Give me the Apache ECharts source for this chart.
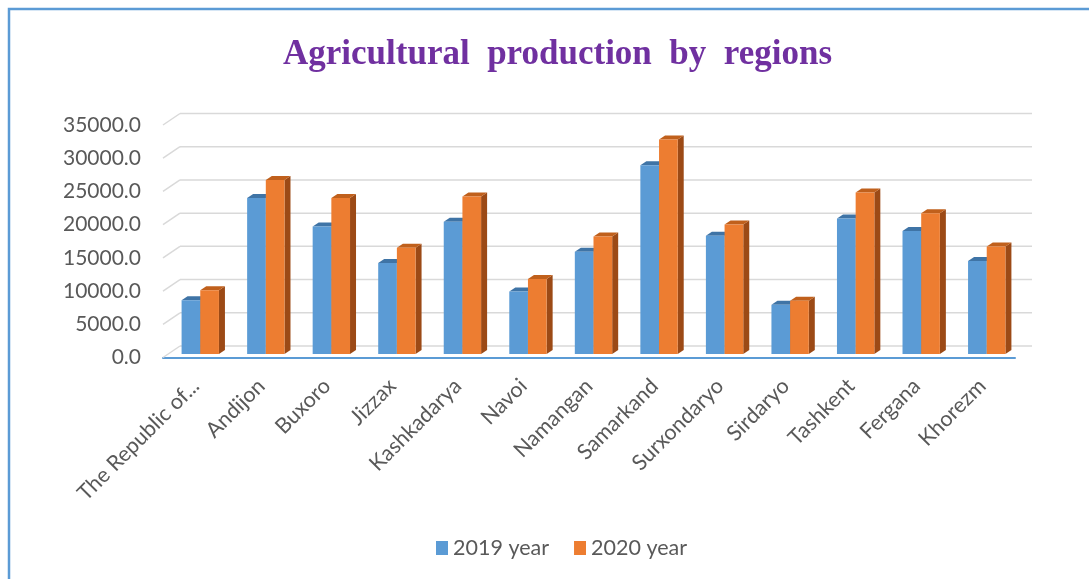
<!DOCTYPE html>
<html>
<head>
<meta charset="utf-8">
<script src="https://cdn.jsdelivr.net/npm/echarts@6/dist/echarts.min.js"></script>
<style>html,body{margin:0;padding:0;background:#fff}#c{width:1089px;height:579px}</style>
</head>
<body>
<div id="c"></div>
<script>
var categories = ["The Republic of Karakalpakstan","Andijon","Buxoro","Jizzax","Kashkadarya","Navoi","Namangan","Samarkand","Surxondaryo","Sirdaryo","Tashkent","Fergana","Khorezm"];
var values2019 = [8100, 23500, 19200, 13700, 19900, 9400, 15400, 28400, 17800, 7400, 20400, 18500, 14000];
var values2020 = [9600, 26200, 23500, 16000, 23700, 11300, 17700, 32300, 19500, 8000, 24300, 21200, 16200];
var yTicks = [0, 5000, 10000, 15000, 20000, 25000, 30000, 35000];
var seriesNames = ["2019 year", "2020 year"];

var FONT = 'Lato';
var WALL_DX = 17, WALL_DY = -11.5;   // back wall offset from front plane
var BAR_DX = 4.5, BAR_DY = -3.5;     // bar front face offset from front plane
var DEP_DX = 6, DEP_DY = -4;         // bar depth
var BAR_FRAC = 0.285;

function wallRender(params, api) {
  var cs = params.coordSys;
  var y = api.coord([0, api.value(1)])[1];
  var x0 = cs.x, x1 = cs.x + cs.width;
  var st = {stroke: '#d9d9d9', lineWidth: 1.5};
  return {type: 'group', children: [
    {type: 'line', shape: {x1: x0 + WALL_DX, y1: y + WALL_DY, x2: x1 + WALL_DX, y2: y + WALL_DY}, style: st},
    {type: 'line', shape: {x1: x0, y1: y, x2: x0 + WALL_DX, y2: y + WALL_DY}, style: st}
  ]};
}

function makeBarRender(side, front, top, right) {
  return function (params, api) {
    var cat = api.value(0), v = api.value(1);
    var p = api.coord([cat, v]);
    var b = api.coord([cat, 0]);
    var w = api.size([1, 0])[0] * BAR_FRAC;
    var xl = (side === 0 ? p[0] - w : p[0]) + BAR_DX;
    var xr = xl + w;
    var yt = p[1] + BAR_DY, yb = b[1] + BAR_DY;
    return {type: 'group', children: [
      {type: 'polygon', shape: {points: [[xr, yb], [xr, yt], [xr + DEP_DX, yt + DEP_DY], [xr + DEP_DX, yb + DEP_DY]]}, style: {fill: right}},
      {type: 'polygon', shape: {points: [[xl, yt], [xr, yt], [xr + DEP_DX, yt + DEP_DY], [xl + DEP_DX, yt + DEP_DY]]}, style: {fill: top}},
      {type: 'rect', shape: {x: xl, y: yt, width: w, height: yb - yt}, style: {fill: front}}
    ]};
  };
}

var chart = echarts.init(document.getElementById('c'));
chart.setOption({
  animation: false,
  backgroundColor: '#ffffff',
  title: {
    text: 'Agricultural  production  by  regions',
    left: 278, top: 32,
    textStyle: {fontFamily: 'Liberation Serif', fontWeight: 'bold', fontSize: 35, color: '#7030a0'}
  },
  graphic: [{type: 'rect', shape: {x: 9, y: 9, width: 1200, height: 800}, style: {fill: 'none', stroke: '#5b9bd5', lineWidth: 2.5}, silent: true}],
  legend: {
    data: seriesNames, left: 431, top: 532, itemWidth: 12, itemHeight: 14, itemGap: 25,
    icon: 'rect',
    textStyle: {fontFamily: FONT, fontSize: 21.5, color: '#595959'}
  },
  grid: {left: 163, right: 74, top: 125, bottom: 221.5, containLabel: false},
  xAxis: {
    type: 'category', data: categories,
    axisLine: {show: true, lineStyle: {color: '#5b9bd5', width: 2}},
    axisTick: {show: false},
    axisLabel: {
      interval: 0, rotate: 45, margin: 25, color: '#595959', fontFamily: FONT, fontSize: 21.5,
      formatter: function (s) { return s.length > 16 ? s.slice(0, 15) + '...' : s; }
    },
    splitLine: {show: false}
  },
  yAxis: {
    type: 'value', min: 0, max: 35000, interval: 5000,
    axisLine: {show: false}, axisTick: {show: false}, splitLine: {show: false},
    axisLabel: {margin: 22, color: '#595959', fontFamily: FONT, fontSize: 21, formatter: function (v) { return v.toFixed(1); }}
  },
  series: [
    {type: 'custom', name: 'wall', renderItem: wallRender, data: yTicks.map(function (t) { return [0, t]; }), z: 1, silent: true, clip: false, legendHoverLink: false},
    {type: 'custom', name: seriesNames[0], renderItem: makeBarRender(0, '#5b9bd5', '#3f74a6', '#3a6a97'), itemStyle: {color: '#5b9bd5'}, data: values2019.map(function (v, i) { return [i, v]; }), z: 2, clip: false},
    {type: 'custom', name: seriesNames[1], renderItem: makeBarRender(1, '#ed7d31', '#c0601c', '#9c4a16'), itemStyle: {color: '#ed7d31'}, data: values2020.map(function (v, i) { return [i, v]; }), z: 3, clip: false}
  ]
});
</script>
</body>
</html>
